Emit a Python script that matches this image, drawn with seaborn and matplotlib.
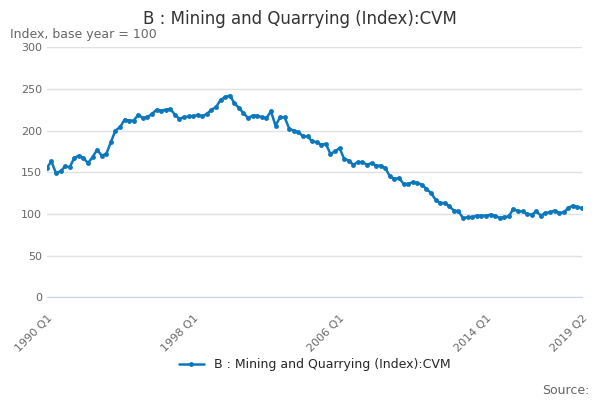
import matplotlib
matplotlib.use("Agg")
import matplotlib.pyplot as plt
import seaborn as sns
import pandas as pd

# quarterly index values 1990 Q1 - 2019 Q2
values = [155, 163, 149, 151, 157, 156, 167, 170, 167, 161, 168, 177,
          170, 172, 186, 200, 204, 213, 212, 212, 219, 215, 216, 220,
          225, 224, 225, 226, 219, 214, 216, 217, 217, 219, 217, 220,
          225, 228, 237, 240, 242, 233, 227, 221, 215, 218, 218, 216,
          215, 223, 206, 216, 216, 202, 200, 198, 193, 193, 187, 186,
          183, 184, 172, 175, 179, 166, 164, 159, 162, 162, 159, 161,
          158, 158, 155, 145, 142, 143, 136, 136, 138, 137, 135, 130,
          125, 117, 113, 113, 109, 104, 103, 95, 96, 96, 98, 98,
          98, 99, 98, 95, 96, 97, 106, 103, 103, 100, 99, 103,
          98, 101, 102, 104, 101, 102, 107, 110, 108, 107]
quarters = [f"{1990 + i // 4} Q{i % 4 + 1}" for i in range(len(values))]
tick_labels = ["1990 Q1", "1998 Q1", "2006 Q1", "2014 Q1", "2019 Q2"]
series_name = "B : Mining and Quarrying (Index):CVM"

df = pd.DataFrame({"pos": range(len(values)), "value": values})

sns.set_style("white")
fig, ax = plt.subplots(figsize=(6, 4), dpi=100)
color = "#0b77bd"
sns.lineplot(data=df, x="pos", y="value", ax=ax, color=color, linewidth=1.8,
             marker="o", markersize=3.5, markeredgewidth=0, label=series_name)

ax.set_ylim(0, 300)
ax.set_yticks(range(0, 301, 50))
ax.set_xlim(0, len(values) - 1)
ax.yaxis.grid(True, color="#e0e0e0", linewidth=1)
ticks = [quarters.index(t) for t in tick_labels]
ax.set_xticks(ticks)
ax.set_xticklabels(tick_labels, rotation=45, ha="right", rotation_mode="anchor")
ax.set_xticks(range(0, len(values), 8), minor=True)
ax.tick_params(axis="x", which="minor", length=8, color="#ccd6eb")
ax.tick_params(axis="x", which="major", length=8, color="#ccd6eb")
ax.tick_params(axis="both", labelsize=8, labelcolor="#666666")
ax.tick_params(axis="y", length=0)
for s in ["top", "right", "left"]:
    ax.spines[s].set_visible(False)
ax.spines["bottom"].set_color("#ccd6eb")
ax.set_xlabel("")
ax.set_ylabel("")

fig.text(0.5, 0.94, series_name, ha="center", fontsize=12, color="#333333")
fig.text(0.017, 0.905, "Index, base year = 100", fontsize=9, color="#666666")
fig.text(0.983, 0.015, "Source:", ha="right", fontsize=9, color="#666666")
ax.legend(loc="upper center", bbox_to_anchor=(0.5, -0.2), frameon=False, fontsize=9)
fig.subplots_adjust(left=0.078, right=0.97, top=0.882, bottom=0.257)
fig.savefig("out.png")
